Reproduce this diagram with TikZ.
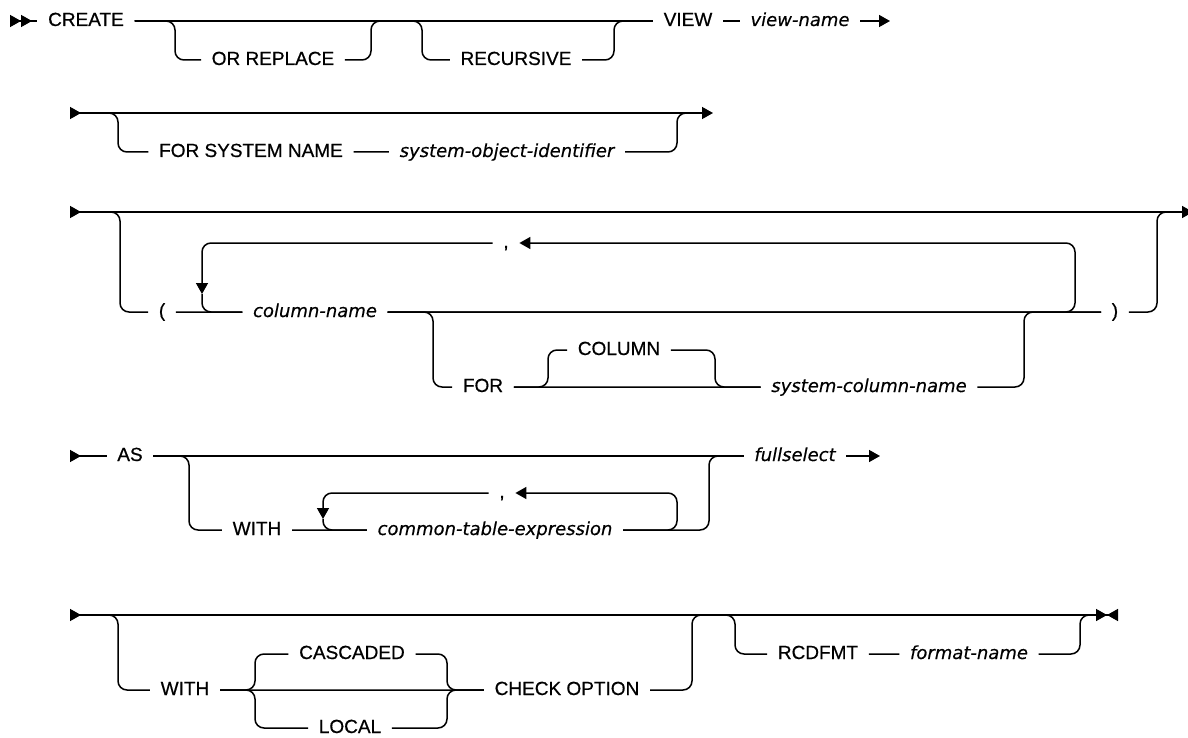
\documentclass[tikz,border=0pt]{standalone}
\usepackage{fontspec}
\setmainfont{Liberation Sans}[FakeBold=0.6]
\newfontfamily\varfont{DejaVu Sans}[FakeBold=0.4]
\usetikzlibrary{arrows.meta}

\begin{document}
\begin{tikzpicture}[x=1pt,y=-1pt,line width=1.5pt,
          >={Triangle[length=11pt,width=12pt,sep=0pt]},
          kw/.style={font=\fontsize{19}{22}\selectfont,inner xsep=10pt,
                     inner ysep=0pt,text height=12pt,text depth=2pt},
          var/.style={kw,font=\varfont\itshape\fontsize{18}{22}\selectfont},
          rr/.style={rounded corners=9pt}
        ]
        \useasboundingbox (0,0) rectangle (1188,738);
        % CREATE ... VIEW view-name
        \coordinate (r1s) at (10,21);
        \node[kw] (create) at (86,21)   {CREATE};
        \coordinate (b1l) at (175,21);
        \node[kw] (orrep)  at (273,60)  {OR REPLACE};
        \coordinate (b1r) at (371,21);
        \coordinate (b2l) at (422,21);
        \node[kw] (recur)  at (516,60)  {RECURSIVE};
        \coordinate (b2r) at (614,21);
        \node[kw] (view)   at (688,21)  {VIEW};
        \node[var] (vname) at (800,21)  {view-name};
        \coordinate (r1e) at (890,21);
        \draw[>>-] (r1s) -- (create);
        \draw (create) -- (view) -- (vname);
        \draw[->] (vname) -- (r1e);
        \draw[rr] (create) -- (b1l) |- (orrep) -| (b1r) -- (view);
        \draw[rr] (create) -- (b2l) |- (recur) -| (b2r) -- (view);
        % FOR SYSTEM NAME
        \coordinate (r2s) at (70,113);
        \coordinate (b3l) at (118,113);
        \node[kw] (fsn)   at (251,152) {FOR SYSTEM NAME};
        \node[var] (soid) at (507,152) {system-object-identifier};
        \coordinate (b3r) at (677,113);
        \coordinate (r2m) at (695,113);
        \coordinate (r2e) at (713,113);
        \draw[>->] (r2s) -- (r2e);
        \draw[rr] (r2s) -- (b3l) |- (fsn) -- (soid) -| (b3r) -- (r2m);
        % column list
        \coordinate (r3s) at (70,212);
        \coordinate (b4l) at (120,212);
        \node[kw] (lp)     at (162,312)  {(};
        \coordinate (l1d) at (202,294);
        \node[var] (cname) at (315,312)  {column-name};
        \node[kw] (c1)     at (506,243)  {,};
        \coordinate (b5l) at (433,312);
        \node[kw] (for1)   at (483,387)  {FOR};
        \coordinate (b6l) at (548,387);
        \node[kw] (coll)   at (619,350)  {COLUMN};
        \coordinate (b6r) at (715,387);
        \node[var] (scn)   at (869,387)  {system-column-name};
        \coordinate (b5r) at (1024,312);
        \coordinate (lr1) at (1075,312);
        \node[kw] (rp)     at (1115,312) {)};
        \coordinate (b4r) at (1157,212);
        \coordinate (r3m) at (1175,212);
        \coordinate (r3e) at (1193,212);
        \draw[>->] (r3s) -- (r3e);
        \draw[rr] (r3s) -- (b4l) |- (lp) -- (cname) -- (rp) -| (b4r) -- (r3m);
        \draw[rr,->] (c1) -| (l1d);
        \draw[rr] (l1d) |- (cname);
        \draw[rr,->] (cname) -- (lr1) |- (c1);
        \draw[rr] (cname) -- (b5l) |- (for1) -- (scn) -| (b5r) -- (rp);
        \draw[rr] (for1) -- (b6l) |- (coll) -| (b6r) -- (scn);
        % AS fullselect
        \coordinate (r5s) at (70,456);
        \node[kw] (as)     at (130,456) {AS};
        \coordinate (b7l) at (189,456);
        \node[kw] (with1)  at (257,530) {WITH};
        \coordinate (l2d) at (323,519);
        \node[var] (cte)   at (495,530) {common-table-expression};
        \node[kw] (c2)     at (502,493) {,};
        \coordinate (lr2) at (677,530);
        \coordinate (b7r) at (709,456);
        \node[var] (fsel)  at (795,456) {fullselect};
        \coordinate (r5e) at (880,456);
        \draw[>-] (r5s) -- (as);
        \draw (as) -- (fsel);
        \draw[->] (fsel) -- (r5e);
        \draw[rr] (as) -- (b7l) |- (with1) -- (cte) -| (b7r) -- (fsel);
        \draw[rr,->] (c2) -| (l2d);
        \draw[rr] (l2d) |- (cte);
        \draw[rr,->] (cte) -- (lr2) |- (c2);
        % check option, rcdfmt
        \coordinate (r6s) at (70,615);
        \coordinate (b8l) at (118,615);
        \node[kw] (with2) at (185,690)  {WITH};
        \coordinate (br1) at (255,690);
        \node[kw] (casc)  at (352,654)  {CASCADED};
        \node[kw] (loc)   at (350,728)  {LOCAL};
        \coordinate (br2) at (447,690);
        \node[kw] (chk)   at (567,690)  {CHECK OPTION};
        \coordinate (b8r) at (692,615);
        \coordinate (b9l) at (735,615);
        \node[kw] (rcd)   at (818,654)  {RCDFMT};
        \node[var] (fmt)  at (969,654)  {format-name};
        \coordinate (b9r) at (1080,615);
        \coordinate (r6m) at (1095,615);
        \coordinate (r6e) at (1118,615);
        \draw[>-><] (r6s) -- (r6e);
        \draw[rr] (r6s) -- (b8l) |- (with2) -- (chk) -| (b8r) -- (b9l);
        \draw[rr] (with2) -- (br1) |- (casc) -| (br2) -- (chk);
        \draw[rr] (with2) -- (br1) |- (loc) -| (br2) -- (chk);
        \draw[rr] (b8r) -- (b9l) |- (rcd) -- (fmt) -| (b9r) -- (r6m);
      \end{tikzpicture}
\end{document}
